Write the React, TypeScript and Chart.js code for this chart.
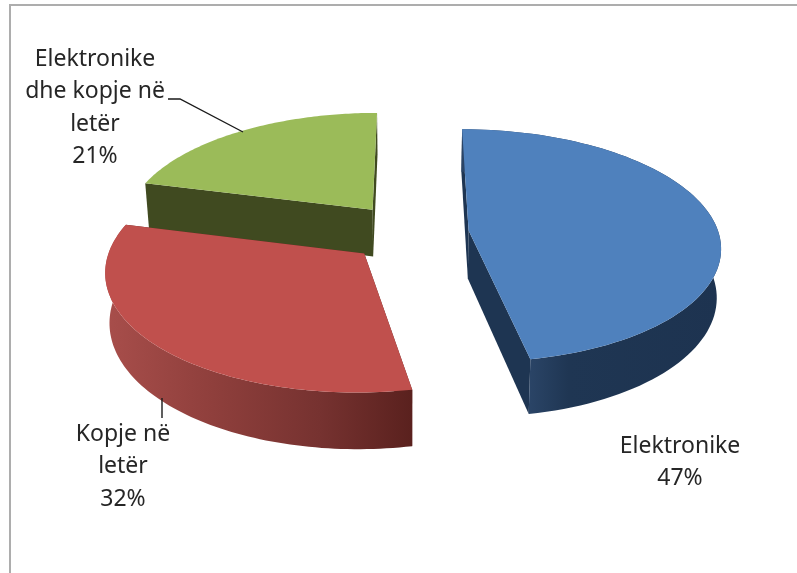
import React, { useEffect, useRef } from "react";
import { Chart, registerables } from "chart.js";

Chart.register(...registerables);

const categories = ["Elektronike", "Kopje në letër", "Elektronike dhe kopje në letër"];
const shareValues = [47, 32, 21];
const labelLines = [
  ["Elektronike", "47%"],
  ["Kopje në", "letër", "32%"],
  ["Elektronike", "dhe kopje në", "letër", "21%"],
];
const labelCentres: [number, number][] = [
  [680, 446],
  [123, 434],
  [95, 59],
];
const leaders: [number, number][][] = [
  [],
  [[162, 398], [162, 418]],
  [[168, 99], [180, 99], [243, 132]],
];

const topColours = ["#4f81bd", "#c0504d", "#9bbb59"];
const cutColours = ["#1e3552", "#5d2421", "#404a20"];
const wallStops = [
  [[0, "#2a4466"], [0.2, "#1f3653"], [1, "#1d3350"]],
  [[0, "#a84e4b"], [0.35, "#8f3f3c"], [0.7, "#763230"], [1, "#5a211e"]],
  [[0, "#4a5a25"], [1, "#404a20"]],
];
const explode = [57, 64, 66];

const TILT = 0.46;
const PERSP = 0.13;
const DEPTH = 48;
const SHRINK = 0.986;

const pie3d = {
  id: "pie3d",
  beforeDatasetDraw(chart: any, args: any) {
    const ctx = chart.ctx as CanvasRenderingContext2D;
    const arcs = args.meta.data as any[];

    ctx.save();
    ctx.fillStyle = "#ffffff";
    ctx.fillRect(0, 0, chart.width, chart.height);
    ctx.fillStyle = "#adadad";
    ctx.fillRect(9, 4, chart.width - 9, 2);
    ctx.fillRect(9, 4, 2, chart.height - 4);

    const first = arcs[0];
    const cx = first.x - 1;
    const cy = first.y;
    const R = first.outerRadius;
    const project = (dx: number, dy: number, low: boolean) => {
      const f = 1 / (1 - (PERSP * dy) / R);
      const px = dx * f * (low ? SHRINK : 1);
      const py = TILT * dy * f + (low ? DEPTH * f : 0);
      return [cx + px, cy + py];
    };

    const order = arcs.map((_, i) => i).reverse();
    for (const i of order) {
      const arc = arcs[i];
      const a0 = arc.startAngle;
      const a1 = arc.endAngle;
      const mid = (a0 + a1) / 2;
      const off = arc.options.offset;
      const ox = Math.cos(mid) * off;
      const oy = Math.sin(mid) * off;
      const N = 90;
      const rim: [number, number][] = [];
      for (let k = 0; k <= N; k++) {
        const a = a0 + ((a1 - a0) * k) / N;
        rim.push([ox + Math.cos(a) * R, oy + Math.sin(a) * R]);
      }
      const poly = (pts: number[][], fill: any) => {
        ctx.beginPath();
        pts.forEach((p, n) => (n ? ctx.lineTo(p[0], p[1]) : ctx.moveTo(p[0], p[1])));
        ctx.closePath();
        ctx.fillStyle = fill;
        ctx.fill();
      };
      const apexHi = project(ox, oy, false);
      const apexLo = project(ox, oy, true);
      const s = rim[0];
      const e = rim[N];
      // cut faces
      poly([apexHi, project(s[0], s[1], false), project(s[0], s[1], true), apexLo], cutColours[i]);
      poly([apexHi, project(e[0], e[1], false), project(e[0], e[1], true), apexLo], cutColours[i]);
      // outer wall
      const front = rim.filter((_, n) => Math.sin(a0 + ((a1 - a0) * n) / N) > -0.05);
      if (front.length > 1) {
        const xs = front.map((p) => project(p[0], p[1], false)[0]);
        const g = ctx.createLinearGradient(Math.min(...xs), 0, Math.max(...xs), 0);
        wallStops[i].forEach((st: any) => g.addColorStop(st[0], st[1]));
        const hi = rim.map((p) => project(p[0], p[1], false));
        const lo = rim.map((p) => project(p[0], p[1], true)).reverse();
        poly([...hi, ...lo], g);
      }
      // top face
      poly([apexHi, ...rim.map((p) => project(p[0], p[1], false))], arc.options.backgroundColor);
    }

    ctx.strokeStyle = "#1a1a1a";
    ctx.lineWidth = 1.4;
    leaders.forEach((ln) => {
      if (!ln.length) return;
      ctx.beginPath();
      ln.forEach((p, n) => (n ? ctx.lineTo(p[0], p[1]) : ctx.moveTo(p[0], p[1])));
      ctx.stroke();
    });

    ctx.fillStyle = "#262626";
    ctx.font = '23px "Noto Sans"';
    ctx.textAlign = "center";
    ctx.textBaseline = "middle";
    labelLines.forEach((lines, i) => {
      lines.forEach((t, n) => {
        ctx.fillText(t, labelCentres[i][0], labelCentres[i][1] + n * 32.5);
      });
    });
    ctx.restore();
    return false;
  },
};

export default function App() {
  const ref = useRef<HTMLCanvasElement>(null);
  useEffect(() => {
    const chart = new Chart(ref.current!, {
      type: "pie",
      data: {
        labels: categories,
        datasets: [
          {
            data: shareValues,
            backgroundColor: topColours,
            borderWidth: 0,
            offset: explode,
            radius: 250,
          } as any,
        ],
      },
      options: {
        animation: false,
        responsive: false,
        layout: { padding: { left: 29, right: 0, top: 0, bottom: 107 } },
        plugins: { legend: { display: false }, tooltip: { enabled: false } },
      },
      plugins: [pie3d],
    });
    return () => chart.destroy();
  }, []);
  return (
    <div style={{ position: "fixed", left: 0, top: 0, width: 797, height: 573, background: "#fff" }}>
      <canvas ref={ref} width={797} height={573} style={{ display: "block" }} />
    </div>
  );
}
